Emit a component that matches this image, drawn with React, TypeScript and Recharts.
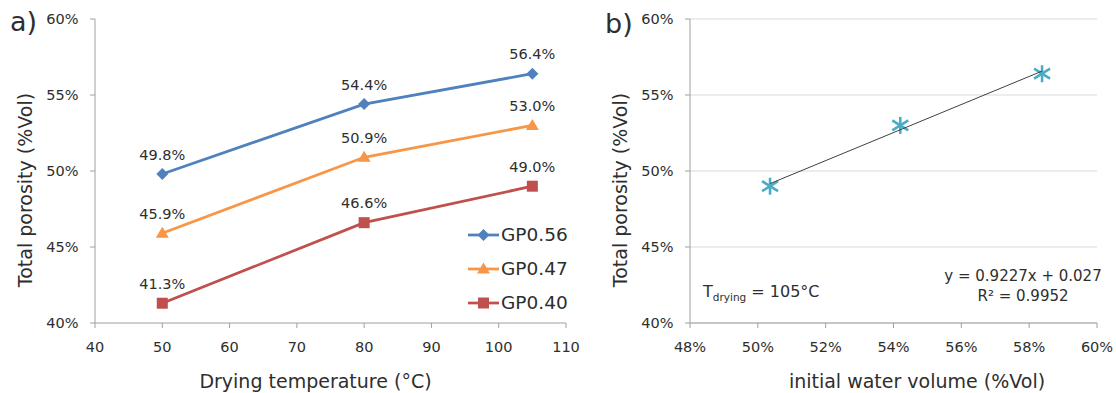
import React from 'react';
import {
  LineChart,
  Line,
  XAxis,
  YAxis,
  Legend,
  LabelList,
  Label,
  ScatterChart,
  Scatter,
  CartesianGrid,
} from 'recharts';

// ---------- data ----------
const temperatures = [50, 80, 105];
const gp056 = [49.8, 54.4, 56.4];
const gp047 = [45.9, 50.9, 53.0];
const gp040 = [41.3, 46.6, 49.0];
const tempTicks = [40, 50, 60, 70, 80, 90, 100, 110];
const porosityTicks = [40, 45, 50, 55, 60];

const waterVolume = [50.36, 54.2, 58.38];
const porosity105 = [49.0, 53.0, 56.4];
const trendX = [50.36, 58.38];
const trendY = [49.17, 56.57];
const waterTicks = [48, 50, 52, 54, 56, 58, 60];

// ---------- styles ----------
const FONT = '"DejaVu Sans", sans-serif';
const TEXT = '#2e2e2e';
const AXIS = '#a0a0a0';
const GRID = '#d9d9d9';

const seriesDefs = [
  { key: 'gp056', name: 'GP0.56', values: gp056, color: '#4F81BD', marker: 'diamond' },
  { key: 'gp047', name: 'GP0.47', values: gp047, color: '#F79646', marker: 'triangle' },
  { key: 'gp040', name: 'GP0.40', values: gp040, color: '#C0504D', marker: 'square' },
];

const lineData = temperatures.map((t, i) => {
  const row: any = { temp: t };
  seriesDefs.forEach((s) => {
    row[s.key] = s.values[i];
  });
  return row;
});

const pointData = waterVolume.map((x, i) => ({ x, y: porosity105[i] }));
const trendData = trendX.map((x, i) => ({ x, y: trendY[i] }));

function Marker({ type, cx, cy, color }: any) {
  if (cx == null || cy == null) return <g />;
  if (type === 'diamond') {
    const s = 6;
    return (
      <path
        d={`M${cx},${cy - s} L${cx + s},${cy} L${cx},${cy + s} L${cx - s},${cy} Z`}
        fill={color}
      />
    );
  }
  if (type === 'triangle') {
    return (
      <path
        d={`M${cx},${cy - 6.5} L${cx + 6.5},${cy + 4.5} L${cx - 6.5},${cy + 4.5} Z`}
        fill={color}
      />
    );
  }
  return <rect x={cx - 5.5} y={cy - 5.5} width={11} height={11} fill={color} />;
}

function Star(props: any) {
  const { cx, cy } = props;
  if (cx == null || cy == null) return <g />;
  return (
    <g stroke="#4BACC6" strokeWidth={2.6}>
      <line x1={cx} y1={cy - 8.5} x2={cx} y2={cy + 8.5} />
      <line x1={cx - 8} y1={cy - 5} x2={cx + 8} y2={cy + 5} />
      <line x1={cx - 8} y1={cy + 5} x2={cx + 8} y2={cy - 5} />
    </g>
  );
}

const tickStyle = { fill: TEXT, fontSize: 14.5, fontFamily: FONT };

function renderLegend(props: any) {
  const payload = props.payload || [];
  return (
    <div style={{ fontFamily: FONT, fontSize: 18.5, color: TEXT }}>
      {seriesDefs.map((s) => {
        const entry = payload.find((p: any) => p.value === s.name);
        const color = entry && entry.color ? entry.color : s.color;
        return (
          <div key={s.key} style={{ display: 'flex', alignItems: 'center', height: 34 }}>
            <svg width={31} height={34} style={{ display: 'block' }}>
              <line x1={0} x2={31} y1={17} y2={17} stroke={color} strokeWidth={2.75} />
              <Marker type={s.marker} cx={15.5} cy={17} color={color} />
            </svg>
            <span style={{ marginLeft: 2, lineHeight: '34px', whiteSpace: 'nowrap' }}>{s.name}</span>
          </div>
        );
      })}
    </div>
  );
}

const leftYLabel = () => (
  <g fontFamily={FONT} fill={TEXT}>
    <text x={10} y={31} fontSize={27} fill={TEXT}>a)</text>
    <text
      transform="translate(32,190) rotate(-90)"
      textAnchor="middle"
      fontSize={19}
      fill={TEXT}
    >
      Total porosity (%Vol)
    </text>
  </g>
);

const leftXLabel = () => (
  <text x={315.5} y={388} textAnchor="middle" fontSize={19} fontFamily={FONT} fill={TEXT}>
    Drying temperature (°C)
  </text>
);

const rightYLabel = () => (
  <g fontFamily={FONT} fill={TEXT}>
    <text x={45} y={33} fontSize={27} fill={TEXT}>b)</text>
    <text
      transform="translate(67,190) rotate(-90)"
      textAnchor="middle"
      fontSize={19}
      fill={TEXT}
    >
      Total porosity (%Vol)
    </text>
  </g>
);

const rightXLabel = () => (
  <g fontFamily={FONT} fill={TEXT}>
    <text x={357} y={388} textAnchor="middle" fontSize={19} fill={TEXT}>
      initial water volume (%Vol)
    </text>
    <text x={143} y={297} fontSize={16} fill={TEXT}>
      <tspan>T</tspan>
      <tspan fontSize={10.5} dy={3.5}>drying</tspan>
      <tspan dy={-3.5}> = 105°C</tspan>
    </text>
    <text x={463} y={281} textAnchor="middle" fontSize={15} fill={TEXT}>
      y = 0.9227x + 0.027
    </text>
    <text x={463} y={301} textAnchor="middle" fontSize={15} fill={TEXT}>
      R² = 0.9952
    </text>
  </g>
);

export default function App() {
  return (
    <div
      style={{
        position: 'absolute',
        left: 0,
        top: 0,
        width: 1116,
        height: 393,
        background: '#ffffff',
        fontFamily: FONT,
      }}
    >
      <div style={{ position: 'absolute', left: 0, top: 0 }}>
        <LineChart
          width={590}
          height={393}
          data={lineData}
          margin={{ top: 19, right: 24, bottom: 0, left: 0 }}
        >
          <XAxis
            dataKey="temp"
            type="number"
            domain={[40, 110]}
            ticks={tempTicks}
            height={70}
            stroke={AXIS}
            tickSize={5}
            tickMargin={14}
            tick={tickStyle}
            interval={0}
          >
            <Label content={leftXLabel} />
          </XAxis>
          <YAxis
            type="number"
            domain={[40, 60]}
            ticks={porosityTicks}
            width={95}
            stroke={AXIS}
            tickSize={5}
            tickMargin={11.5}
            tick={tickStyle}
            tickFormatter={(v: number) => `${v}%`}
            interval={0}
          >
            <Label content={leftYLabel} />
          </YAxis>
          <Legend
            layout="vertical"
            align="center"
            verticalAlign="middle"
            content={renderLegend}
            wrapperStyle={{ left: 468, top: 218, width: 130 }}
          />
          {seriesDefs.map((s) => (
            <Line
              key={s.key}
              dataKey={s.key}
              name={s.name}
              stroke={s.color}
              strokeWidth={2.75}
              isAnimationActive={false}
              activeDot={false}
              dot={(p: any) => (
                <Marker key={`${s.key}-${p.index}`} type={s.marker} cx={p.cx} cy={p.cy} color={s.color} />
              )}
            >
              <LabelList
                dataKey={s.key}
                position="top"
                offset={14.5}
                fill={TEXT}
                fontSize={14.5}
                fontFamily={FONT}
                formatter={(v: any) => `${Number(v).toFixed(1)}%`}
              />
            </Line>
          ))}
        </LineChart>
      </div>
      <div style={{ position: 'absolute', left: 560, top: 0 }}>
        <ScatterChart
          width={556}
          height={393}
          margin={{ top: 19, right: 19, bottom: 0, left: 0 }}
        >
          <CartesianGrid vertical={false} stroke={GRID} strokeWidth={1.2} />
          <XAxis
            dataKey="x"
            type="number"
            domain={[48, 60]}
            ticks={waterTicks}
            height={70}
            stroke={AXIS}
            tickSize={5}
            tickMargin={14}
            tick={tickStyle}
            tickFormatter={(v: number) => `${v}%`}
            interval={0}
          >
            <Label content={rightXLabel} />
          </XAxis>
          <YAxis
            dataKey="y"
            type="number"
            domain={[40, 60]}
            ticks={porosityTicks}
            width={130}
            stroke={AXIS}
            tickSize={5}
            tickMargin={11.5}
            tick={tickStyle}
            tickFormatter={(v: number) => `${v}%`}
            interval={0}
          >
            <Label content={rightYLabel} />
          </YAxis>
          <Scatter data={pointData} shape={Star} isAnimationActive={false} />
          <Scatter
            data={trendData}
            line={{ stroke: '#404040', strokeWidth: 1 }}
            shape={() => <g />}
            isAnimationActive={false}
            legendType="none"
          />
        </ScatterChart>
      </div>
    </div>
  );
}
